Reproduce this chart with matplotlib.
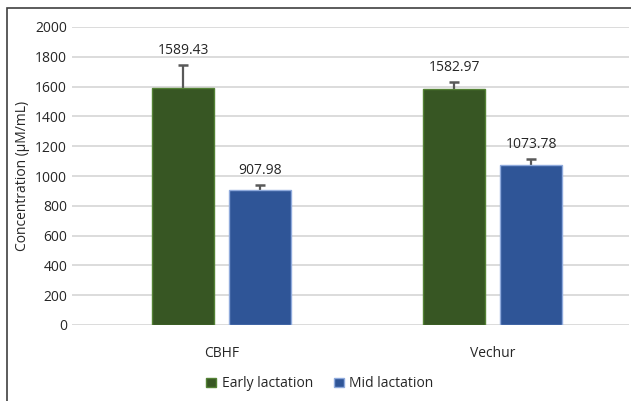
import numpy as np
import matplotlib.pyplot as plt
from matplotlib.patches import Rectangle

plt.rcParams['font.family'] = ['Open Sans', 'DejaVu Sans']

groups = ['CBHF', 'Vechur']
series = ['Early lactation', 'Mid lactation']
early = [1589.43, 1582.97]
mid = [907.98, 1073.78]
early_err = [156, 50]
mid_err = [32, 40]

colors = ['#375623', '#2F5597']
edges = ['#548235', '#8FAADC']

fig = plt.figure(figsize=(6.31, 4.01), dpi=100)
ax = fig.add_axes([72/631, (401-325)/401, (629-72)/631, (325-27)/401])

x = np.arange(len(groups))
w = 0.229
off = 0.142
for vals, errs, dx, c, ec, lab in [(early, early_err, -off, colors[0], edges[0], series[0]),
                                    (mid, mid_err, off, colors[1], edges[1], series[1])]:
    ax.bar(x + dx, vals, w, color=c, edgecolor=ec, linewidth=1, label=lab, zorder=3)
    # plus-only error bars with a cap on top only
    ax.errorbar(x + dx, vals, yerr=[np.zeros(len(errs)), errs], fmt='none',
                ecolor='#595959', elinewidth=1.6, capsize=0, zorder=2)
    ax.plot(x + dx, np.array(vals) + np.array(errs), ls='none', marker='_', ms=7,
            mew=1.8, color='#595959', zorder=2)
    for xi, v, e in zip(x + dx, vals, errs):
        ax.annotate(f'{v:.2f}', (xi, v + e), xytext=(0, 5), textcoords='offset points',
                    ha='center', va='bottom', fontsize=10, color='#262626')

ax.set_xlim(-0.553, 1.503)
ax.set_ylim(0, 2000)
ax.set_yticks(np.arange(0, 2001, 200))
ax.set_xticks(x)
ax.set_xticklabels(groups)
ax.yaxis.grid(True, color='#d9d9d9', linewidth=1.3, zorder=0)
ax.set_axisbelow(True)
for s in ax.spines.values():
    s.set_visible(False)
ax.tick_params(axis='both', length=0, labelsize=10, colors='#262626')
ax.tick_params(axis='x', pad=15)
ax.set_ylabel('Concentration (µM/mL)', fontsize=10, color='#262626')

ax.legend(loc='upper center', bbox_to_anchor=(0.445, -0.13), ncol=2, frameon=False,
          fontsize=10, handlelength=0.7, handleheight=0.7, handletextpad=0.4,
          columnspacing=1.5, labelcolor='#262626')

fig.patches.append(Rectangle((7/631, -0.1), 1.2, (401-8)/401 + 0.1, transform=fig.transFigure,
                             fill=False, edgecolor='#404040', linewidth=1.2))

fig.savefig('out.png', dpi=100)
